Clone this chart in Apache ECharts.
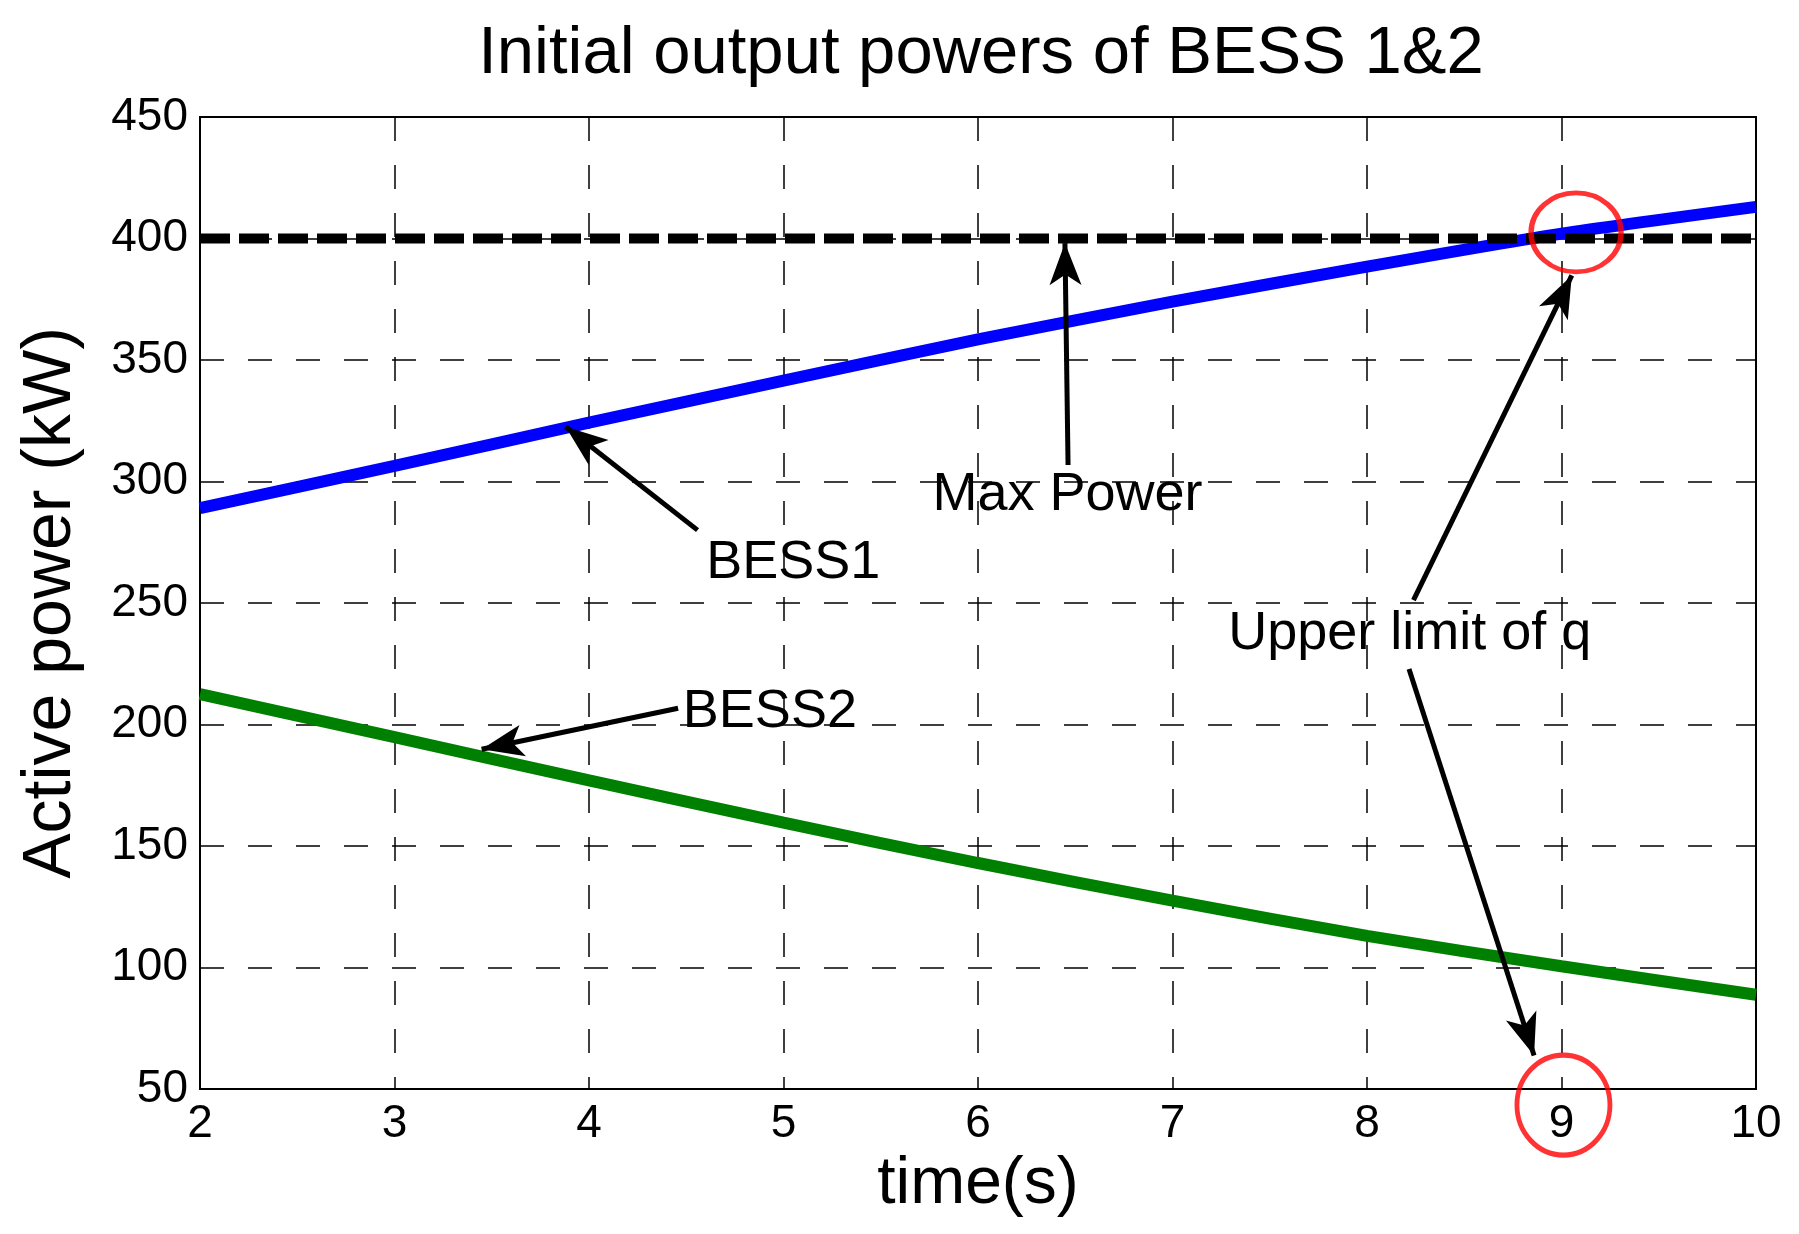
<!DOCTYPE html>
<html><head><meta charset="utf-8">
<script src="https://cdn.jsdelivr.net/npm/echarts@6/dist/echarts.min.js"></script>
<style>html,body{margin:0;padding:0;background:#fff}#c{width:1799px;height:1234px}</style>
</head><body><div id="c"></div>
<script>
const timeS = [2, 3, 4, 5, 6, 7, 8, 9, 10];
const bess1 = [289, 306.4, 324.2, 341.5, 358.5, 374, 388.4, 402, 413];
const bess2 = [212.5, 194.8, 177, 159.6, 143, 127.5, 113, 100.5, 88.8];
const maxPower = [400, 400, 400, 400, 400, 400, 400, 400, 400];
const annotationTexts = ['Max Power', 'BESS1', 'BESS2', 'Upper limit of q'];
const annotationAt = [[6.46, 294.5], [5.05, 266.5], [4.93, 205.3], [8.22, 237.2]];
const arrowFrom = [[6.463, 306.8], [4.558, 280.0], [4.458, 206.7], [8.239, 251.2], [8.216, 222.8]];
const arrowTo = [[6.447, 398.1], [3.880, 322.5], [3.448, 189.8], [9.053, 384.8], [8.859, 63.8]];
const circleAt = [[9.075, 402.5], [9.01, 43.4]];

const FONT = "'Liberation Sans', Arial, sans-serif";
const pairs = arr => timeS.map((t, i) => [t, arr[i]]);
const circleSizes = [[90, 79], [93, 100]];

const chart = echarts.init(document.getElementById('c'), null, {renderer: 'canvas'});
chart.setOption({
  animation: false,
  backgroundColor: '#fff',
  title: {
    text: 'Initial output powers of BESS 1&2',
    left: 976, top: 16, textAlign: 'center',
    textStyle: {fontFamily: FONT, fontSize: 67, fontWeight: 'normal', color: '#000'}
  },
  grid: {left: 200, right: 43, top: 117, bottom: 145, show: true, borderColor: '#000', borderWidth: 2, containLabel: false},
  xAxis: {
    type: 'value', min: 2, max: 10, interval: 1,
    name: 'time(s)', nameLocation: 'middle', nameGap: 58,
    nameTextStyle: {fontFamily: FONT, fontSize: 66, color: '#000'},
    axisLine: {show: true, lineStyle: {color: '#000', width: 2}},
    axisTick: {show: false},
    axisLabel: {fontFamily: FONT, fontSize: 46, color: '#000', margin: 12},
    splitLine: {show: true, lineStyle: {color: '#000', width: 1.5, type: [24, 24]}}
  },
  yAxis: {
    type: 'value', min: 50, max: 450, interval: 50,
    name: 'Active power (kW)', nameLocation: 'middle', nameGap: 115,
    nameTextStyle: {fontFamily: FONT, fontSize: 68, color: '#000'},
    axisLine: {show: true, lineStyle: {color: '#000', width: 2}},
    axisTick: {show: false},
    axisLabel: {fontFamily: FONT, fontSize: 46, color: '#000', margin: 12},
    splitLine: {show: true, lineStyle: {color: '#000', width: 1.5, type: [24, 24]}}
  },
  series: [
    {
      name: 'BESS1', type: 'line', data: pairs(bess1), smooth: 0.2, symbol: 'none',
      lineStyle: {color: '#0000FF', width: 12, cap: 'butt'}, silent: true, z: 2
    },
    {
      name: 'BESS2', type: 'line', data: pairs(bess2), smooth: 0.2, symbol: 'none',
      lineStyle: {color: '#008000', width: 12, cap: 'butt'}, silent: true, z: 2
    },
    {
      name: 'Max Power', type: 'line', data: pairs(maxPower), symbol: 'none',
      lineStyle: {color: '#000', width: 10, type: [30, 9], cap: 'butt'}, silent: true, z: 3
    },
    {
      name: 'annotations', type: 'line', data: [], symbol: 'none', silent: true, z: 4, clip: false,
      markLine: {
        silent: true, animation: false,
        symbol: ['none', 'arrow'], symbolSize: [24, 42],
        lineStyle: {color: '#000', width: 5, type: 'solid'},
        label: {show: false},
        data: arrowFrom.map((f, i) => [{coord: f}, {coord: arrowTo[i]}])
      },
      markPoint: {
        silent: true, animation: false,
        symbol: 'circle', symbolSize: 1,
        itemStyle: {color: 'rgba(0,0,0,0)'},
        label: {show: true, position: 'inside', fontFamily: FONT, fontSize: 54, color: '#000'},
        data: annotationTexts.map((t, i) => ({coord: annotationAt[i], value: t, label: {formatter: t}}))
      }
    },
    {
      name: 'circles', type: 'scatter', clip: false, silent: true, z: 5,
      data: circleAt.map((c, i) => ({value: c, symbolSize: circleSizes[i]})),
      symbol: 'circle',
      itemStyle: {color: 'rgba(0,0,0,0)', borderColor: '#FF0000', borderWidth: 5}
    }
  ]
});
</script>
</body></html>
